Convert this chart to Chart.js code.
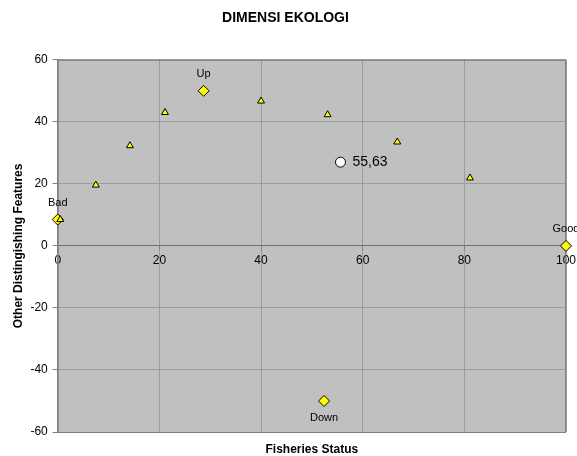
<!DOCTYPE html>
<html>
<head>
<meta charset="utf-8">
<script src="https://cdn.jsdelivr.net/npm/chart.js@4/dist/chart.umd.min.js"></script>
<style>
  html, body { margin: 0; padding: 0; background: #fff; }
  #wrap { width: 577px; height: 456px; }
</style>
</head>
<body>
<div id="wrap"><canvas id="chart"></canvas></div>
<script>
// attribute points
const attrX = [0.5, 7.5, 14.2, 21.1, 40.0, 53.1, 66.8, 81.1];
const attrY = [8.5, 19.6, 32.3, 43.0, 46.7, 42.3, 33.5, 21.9];

// reference anchors
const refNames = ["Bad", "Good", "Up", "Down"];
const refX = [0, 100, 28.7, 52.4];
const refY = [8.5, 0, 50, -50];

// status score
const scoreX = [55.63];
const scoreY = [27.0];
const scoreNames = ["55,63"];

// axes
const xMin = 0, xMax = 100, xStep = 20;
const yMin = -60, yMax = 60, yStep = 20;

const FONT = "Arial, 'Liberation Sans', sans-serif";

const toPoints = (xs, ys) => xs.map((x, i) => ({ x, y: ys[i] }));

// grey plot area + frame
const plotArea = {
  id: "plotArea",
  beforeDraw(chart) {
    const { ctx, chartArea: a } = chart;
    ctx.save();
    ctx.fillStyle = "#c0c0c0";
    ctx.fillRect(a.left, a.top, a.right - a.left, a.bottom - a.top);
    ctx.restore();
  },
  beforeDatasetsDraw(chart) {
    const { ctx, chartArea: a } = chart;
    ctx.save();
    ctx.strokeStyle = "#808080";
    ctx.lineWidth = 1;
    ctx.strokeRect(a.left + 0.5, a.top + 0.5, a.right - a.left - 1, a.bottom - a.top);
    ctx.restore();
  }
};

// text next to the named points
const pointLabels = {
  id: "pointLabels",
  afterDatasetsDraw(chart) {
    const ctx = chart.ctx;
    ctx.save();
    chart.data.datasets.forEach((ds, i) => {
      if (!ds.names) return;
      const meta = chart.getDatasetMeta(i);
      meta.data.forEach((pt, j) => {
        const name = ds.names[j];
        ctx.fillStyle = "#000";
        ctx.textBaseline = "middle";
        if (ds.side) {
          ctx.font = "14px " + FONT;
          ctx.textAlign = "left";
          ctx.fillText(name, pt.x + 12, pt.y);
        } else {
          ctx.font = "11px " + FONT;
          ctx.textAlign = "center";
          const below = ds.data[j].y < 0;
          ctx.fillText(name, pt.x, pt.y + (below ? 17 : -17));
        }
      });
    });
    ctx.restore();
  }
};

new Chart(document.getElementById("chart"), {
  type: "scatter",
  data: {
    datasets: [
      {
        label: "Attributes",
        data: toPoints(attrX, attrY),
        pointStyle: "triangle",
        radius: 4,
        backgroundColor: "#ffff00",
        borderColor: "#000",
        borderWidth: 1,
        clip: false
      },
      {
        label: "References",
        data: toPoints(refX, refY),
        names: refNames,
        pointStyle: "rectRot",
        radius: 5.5,
        backgroundColor: "#ffff00",
        borderColor: "#000",
        borderWidth: 1,
        clip: false
      },
      {
        label: "Score",
        data: toPoints(scoreX, scoreY),
        names: scoreNames,
        side: true,
        pointStyle: "circle",
        radius: 5,
        backgroundColor: "#ffffff",
        borderColor: "#000",
        borderWidth: 1,
        clip: false
      }
    ]
  },
  options: {
    responsive: true,
    maintainAspectRatio: false,
    animation: false,
    events: [],
    layout: { padding: { left: 5, right: 11, top: 0, bottom: 0 } },
    plugins: {
      legend: { display: false },
      tooltip: { enabled: false },
      title: {
        display: true,
        text: "DIMENSI EKOLOGI",
        color: "#000",
        font: { family: FONT, size: 14, weight: "bold" },
        padding: { top: 10, bottom: 33 }
      },
      subtitle: {
        display: true,
        position: "bottom",
        fullSize: false,
        text: "Fisheries Status",
        color: "#000",
        font: { family: FONT, size: 12, weight: "bold", lineHeight: 1 },
        padding: { top: 12, bottom: 0 }
      }
    },
    scales: {
      x: {
        type: "linear",
        position: { y: 0 },
        min: xMin,
        max: xMax,
        afterFit: scale => { scale.paddingRight = 0; scale.paddingLeft = 0; },
        ticks: { stepSize: xStep, color: "#000", font: { family: FONT, size: 12 }, padding: 4 },
        grid: { color: "#9c9c9c", tickLength: 4, tickColor: "#808080" },
        border: { display: true, color: "#707070" }
      },
      y: {
        type: "linear",
        position: "left",
        min: yMin,
        max: yMax,
        ticks: { stepSize: yStep, color: "#000", font: { family: FONT, size: 12 }, padding: 5 },
        grid: {
          color: ctx => (ctx.tick && ctx.tick.value === 0 ? "#707070" : "#9c9c9c"),
          tickLength: 5,
          tickColor: "#808080"
        },
        border: { display: true, color: "#808080" },
        title: {
          display: true,
          text: "Other Distingishing Features",
          color: "#000",
          font: { family: FONT, size: 12, weight: "bold" },
          padding: { top: 6, bottom: 0 }
        }
      }
    }
  },
  plugins: [plotArea, pointLabels]
});
</script>
</body>
</html>
